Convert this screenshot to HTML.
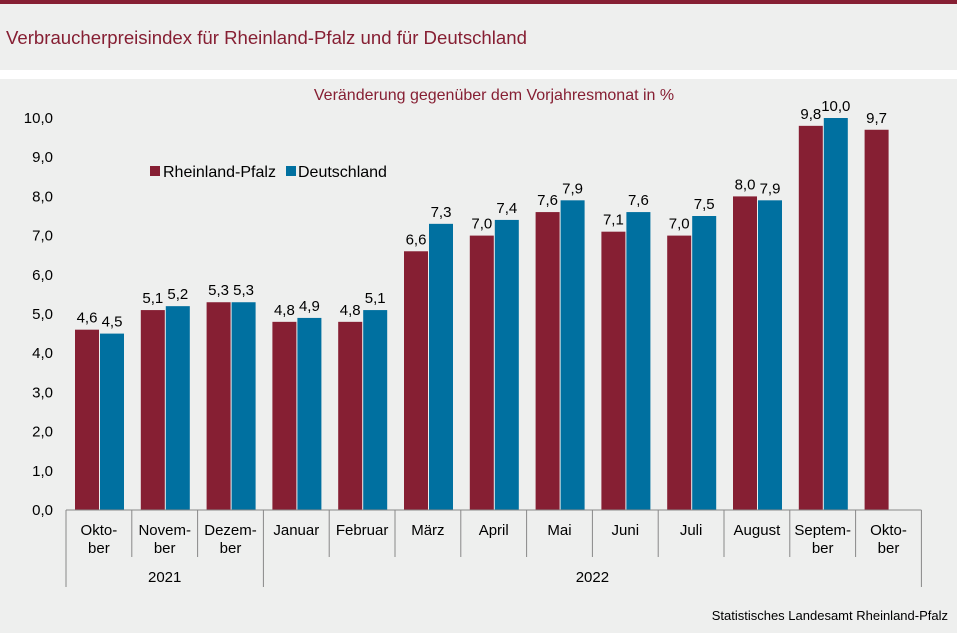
<!DOCTYPE html>
<html><head><meta charset="utf-8"><style>
body{margin:0;width:957px;height:628px;overflow:hidden;background:#eeefee;font-family:"Liberation Sans",sans-serif}
</style></head><body>
<svg width="957" height="628" xmlns="http://www.w3.org/2000/svg" id="svg" style="font-family:'Liberation Sans',sans-serif">
<rect x="0" y="0" width="957" height="628" fill="#eeefee"/>
<rect x="0" y="0" width="957" height="4" fill="#861f33"/>
<rect x="0" y="70" width="957" height="9" fill="#ffffff"/>
<text x="6" y="44" font-size="18.6" fill="#861f33">Verbraucherpreisindex für Rheinland-Pfalz und für Deutschland</text>
<text x="494" y="100" font-size="16" fill="#861f33" text-anchor="middle">Veränderung  gegenüber dem Vorjahresmonat in %</text>
<g>
<rect x="150" y="166" width="10" height="10" fill="#861f33"/><text x="163" y="177" font-size="16">Rheinland-Pfalz</text>
<rect x="286" y="166" width="10" height="10" fill="#0070a0"/><text x="298" y="177" font-size="16">Deutschland</text>
</g>
<text x="948" y="620" font-size="13" text-anchor="end">Statistisches Landesamt  Rheinland-Pfalz</text>
<g id="g"></g>
</svg>
<script>
const months=[["Okto-","ber"],["Novem-","ber"],["Dezem-","ber"],["Januar"],["Februar"],["März"],["April"],["Mai"],["Juni"],["Juli"],["August"],["Septem-","ber"],["Okto-","ber"]];
const rp=[4.6,5.1,5.3,4.8,4.8,6.6,7.0,7.6,7.1,7.0,8.0,9.8,9.7];
const de=[4.5,5.2,5.3,4.9,5.1,7.3,7.4,7.9,7.6,7.5,7.9,10.0,null];
const yTicks=[0,1,2,3,4,5,6,7,8,9,10];
const years=[["2021",0,3],["2022",3,13]];
const x0=66,cw=65.8,y0=510,ppu=39.2;
const X=i=>x0+i*cw, Y=v=>y0-v*ppu;
const g=document.getElementById('g'),NS="http://www.w3.org/2000/svg";
function mk(t,a,txt){const e=document.createElementNS(NS,t);for(const k in a)e.setAttribute(k,a[k]);if(txt!=null)e.textContent=txt;g.appendChild(e);return e;}
const f=v=>v.toFixed(1).replace('.',',');
yTicks.forEach(v=>{const e=mk('text',{x:53,y:Y(v)+5,'font-size':15,'text-anchor':'end'},f(v));

});
rp.forEach((v,i)=>{
 const b=mk('rect',{x:X(i)+9,y:Y(v),width:24,height:v*ppu,fill:'#861f33'});
 
 
 const t=mk('text',{x:X(i)+21,y:Y(v)-7,'font-size':15,'text-anchor':'middle'},f(v));
 
 
 const d=de[i];
 if(d!=null){
  const b2=mk('rect',{x:X(i)+34,y:Y(d),width:24,height:d*ppu,fill:'#0070a0'});
  
  
  const t2=mk('text',{x:X(i)+46,y:Y(d)-7,'font-size':15,'text-anchor':'middle'},f(d));
  
  
 }
 const m=months[i];
 m.forEach((s,k)=>{const t3=mk('text',{x:X(i)+cw/2,y:535+k*18,'font-size':15,'text-anchor':'middle'},s);
 
 });
});
mk('line',{x1:x0,x2:X(13),y1:y0,y2:y0,stroke:'#888','stroke-width':1});
for(let i=0;i<=13;i++){const yb=(i==0||i==3||i==13)?587:557;mk('line',{x1:X(i),x2:X(i),y1:y0,y2:yb,stroke:'#888','stroke-width':1});}
years.forEach(([l,a,b])=>{const t=mk('text',{x:(X(a)+X(b))/2,y:582,'font-size':15,'text-anchor':'middle'},l);

});
</script>
</body></html>
